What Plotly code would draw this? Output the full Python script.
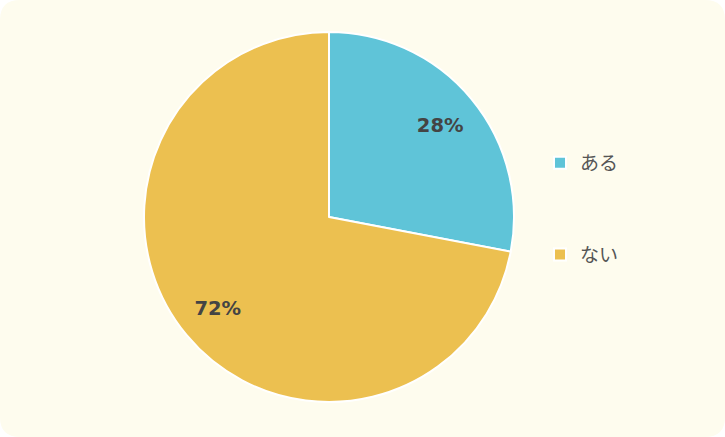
import plotly.graph_objects as go

labels = ["ある", "ない"]
values = [28, 72]
colors = ["#5FC4D8", "#ECC050"]

W, H = 725, 437
dom = dict(x=[144 / W, 514 / W], y=[35 / H, 1 - 32 / H])
fig = go.Figure()

fig.add_trace(go.Pie(
    labels=labels, values=values, sort=False, direction="clockwise", rotation=0,
    marker=dict(colors=colors, line=dict(color="white", width=2)),
    textinfo="none", domain=dom, showlegend=False, hoverinfo="label+percent",
))
# transparent ring used only to place the percentage labels further out
fig.add_trace(go.Pie(
    labels=labels, values=values, sort=False, direction="clockwise", rotation=0,
    hole=0.56,
    marker=dict(colors=["rgba(0,0,0,0)"] * 2, line=dict(width=0)),
    textinfo="percent", texttemplate="%{percent:.0%}",
    textposition="inside", insidetextorientation="horizontal",
    textfont=dict(family="DejaVu Sans", size=19.5, color="#444444", weight="bold"),
    domain=dom, showlegend=False, hoverinfo="skip",
))

for lab, col in zip(labels, colors):
    fig.add_trace(go.Scatter(
        x=[None], y=[None], mode="markers", name=lab, legendgroup=lab,
        marker=dict(symbol="square", size=12, color=col, line=dict(color="white", width=2)),
    ))

rx, ry = 20 / W, 20 / H
path = (f"M {rx},0 L {1-rx},0 Q 1,0 1,{ry} L 1,{1-ry} Q 1,1 {1-rx},1 "
        f"L {rx},1 Q 0,1 0,{1-ry} L 0,{ry} Q 0,0 {rx},0 Z")

fig.update_layout(
    width=W, height=H,
    margin=dict(l=0, r=0, t=0, b=0),
    paper_bgcolor="white", plot_bgcolor="rgba(0,0,0,0)",
    xaxis=dict(visible=False), yaxis=dict(visible=False),
    shapes=[dict(type="path", xref="paper", yref="paper", path=path,
                 fillcolor="#FEFCEE", line=dict(width=0), layer="below")],
    legend=dict(x=540 / W, y=1 - 144 / H, xanchor="left", yanchor="top",
                tracegroupgap=64, bgcolor="rgba(0,0,0,0)",
                font=dict(family="Noto Sans CJK JP", size=19, color="#555555")),
)

fig.write_html("out.html", config={"displayModeBar": False},
               post_script="document.body.style.margin='0';")
